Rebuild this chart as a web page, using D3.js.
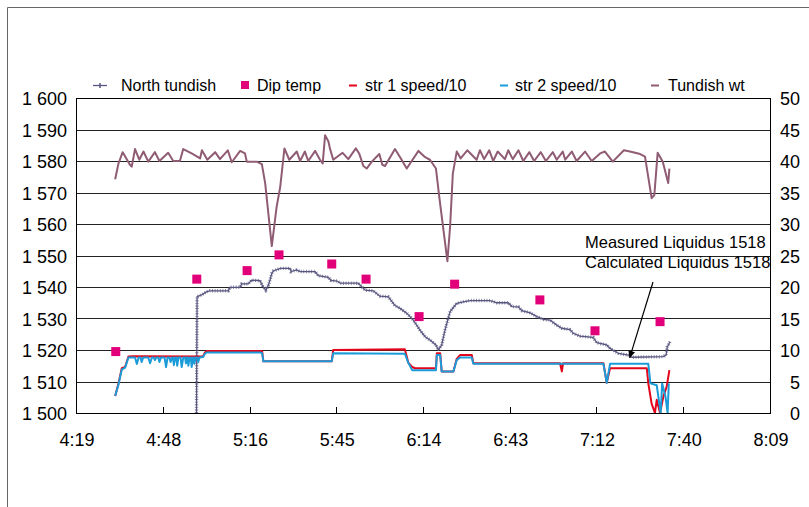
<!DOCTYPE html>
<html><head><meta charset="utf-8">
<script src="https://cdn.jsdelivr.net/npm/d3@7/dist/d3.min.js"></script>
<style>
body{margin:0;background:#fff}
svg text{font-family:"Liberation Sans",Arial,Helvetica,sans-serif;fill:#000}
</style>
</head><body>
<svg id="chart" width="809" height="507"></svg>
<script>
// ---- DATA (time = minutes after midnight) ----
const xTickValues = [259.2, 288, 316.8, 345.6, 374.4, 403.2, 432, 460.8, 489.6];
const xTickLabels = ["4:19","4:48","5:16","5:45","6:14","6:43","7:12","7:40","8:09"];
const leftTickValues = [1500,1510,1520,1530,1540,1550,1560,1570,1580,1590,1600];
const leftTickLabels = ["1 500","1 510","1 520","1 530","1 540","1 550","1 560","1 570","1 580","1 590","1 600"];
const rightTickValues = [0,5,10,15,20,25,30,35,40,45,50];

const seriesNames = ["North tundish","Dip temp","str 1 speed/10","str 2 speed/10","Tundish wt"];

// North tundish temperature (°C)
const northTundish = [
 [299.2,1500],[299.4,1536.9],[300.9,1537.5],[302.6,1538.5],[303.7,1538.8],[309.8,1538.8],[310.3,1539.9],
 [313.7,1539.9],[314.2,1541],[316.4,1541],[317.5,1542.2],[320.3,1542],[321.1,1540.4],[322.2,1539],
 [323.1,1540.6],[324.2,1544.3],[324.7,1545.1],[327.0,1545.9],[330.3,1545.9],[330.6,1544.9],[332.5,1545.4],
 [333.6,1544.9],[338.6,1544.9],[339.6,1543.6],[343.0,1543.1],[343.8,1542.1],[345.9,1541.9],[346.9,1541.2],
 [352.9,1541.2],[355.2,1539],[357.9,1538.8],[360.1,1537.1],[362.9,1536.9],[365.1,1534.1],[366.8,1533.2],
 [369.0,1531.7],[371.2,1529.5],[373.4,1526.3],[375.1,1524.2],[376.7,1523.2],[378.7,1521.6],[379.5,1520],
 [380.6,1521.6],[381.7,1526.3],[383.4,1532.2],[385.6,1534.8],[387.8,1535.3],[390.0,1535.7],[396.7,1535.7],
 [398.9,1535.0],[402.7,1535.0],[403.9,1533.8],[406.1,1533.7],[407.2,1532.5],[410.0,1531.8],[412.2,1530.6],
 [414.4,1529.7],[416.6,1529.5],[418.8,1527.9],[420.5,1526.9],[423.2,1526.5],[424.3,1525.3],[426.5,1524.4],
 [430.9,1524],[432.1,1522.3],[435.4,1521.6],[436.5,1520.5],[439.3,1518.9],[442.6,1518.4],[443.7,1517.7],
 [454.2,1517.9],[455.1,1518.4],[455.5,1521],[456.4,1522.6]
];

// Dip temperature (°C)
const dipTemp = [
 [272.4,1519.5],[299.3,1542.5],[316.0,1545.2],[326.6,1550.2],[344.1,1547.3],[355.5,1542.5],
 [373.1,1530.6],[384.9,1540.9],[413.2,1535.9],[431.5,1526.1],[453.1,1529]
];

// strand 1 speed / 10
const str1Speed = [
 [272.2,2.7],[273.3,4.7],[274.4,7.1],[275.5,7.3],[276.6,8.95],[278.2,9.0],[300.4,8.95],[301.4,9.0],
 [302.0,9.6],[302.6,9.85],[320.3,9.85],[321.0,9.8],[321.4,8.2],[344.1,8.2],[344.6,10.0],[368.4,10.1],
 [369.5,8.0],[370.8,7.3],[371.8,7.1],[378.7,7.1],[379.0,9.5],[380.1,9.5],[380.6,6.6],[384.5,6.6],
 [385.6,8.6],[386.7,9.2],[390.6,9.2],[391.1,7.9],[419.9,7.9],[420.5,6.6],[420.9,7.9],[434.3,7.9],
 [435.4,4.8],[436.5,7.1],[448.7,7.1],[449.2,4.7],[450.3,1.5],[451.4,0],[452.0,2.1],[453.1,0],
 [454.2,2.6],[455.3,4.2],[456.2,6.8]
];

// strand 2 speed / 10
const str2Speed = [
 [272.2,2.7],[273.3,4.5],[274.4,6.9],[275.5,7.2],[276.6,8.8],[278.8,8.8],[279.4,7.8],[280.0,8.8],
 [280.6,8.8],[281.0,8.1],[281.5,8.8],[283.2,8.8],[283.8,7.9],[284.4,8.8],[285.0,8.8],[285.4,8.4],
 [285.9,8.8],[286.5,8.8],[286.9,8.1],[287.4,8.8],[288.6,8.8],[289.1,7.3],[289.6,8.8],[290.2,8.8],
 [290.6,8.1],[291.1,8.8],[291.4,8.8],[291.7,7.6],[292.1,8.8],[292.5,8.8],[292.8,7.5],[293.2,8.8],
 [293.9,8.8],[294.3,7.3],[294.8,8.8],[295.4,8.8],[295.7,7.9],[296.0,8.8],[296.2,8.8],[296.5,7.5],
 [296.9,8.8],[297.3,8.8],[297.6,7.3],[298.0,8.8],[298.2,8.8],[298.5,7.8],[298.9,8.8],[299.5,8.8],
 [299.8,8.1],[300.2,8.8],[301.4,8.9],[302.0,9.4],[302.6,9.6],[320.3,9.6],[321.0,9.5],[321.4,8.2],
 [344.1,8.2],[344.6,9.5],[368.4,9.4],[369.5,8.0],[370.8,6.8],[378.7,6.8],[379.0,9.2],[380.1,9.2],
 [380.6,6.6],[384.5,6.6],[385.6,8.4],[386.7,8.8],[390.6,8.8],[391.1,7.8],[434.3,7.8],[435.4,4.8],
 [436.5,7.8],[449.2,7.8],[449.9,4.7],[452.0,4.4],[453.3,0],[453.8,4.7],[454.9,2.6],[455.6,0],[456.0,4.7]
];

// Tundish weight (t)
const tundishWt = [
 [272.2,37.1],[273.3,39.6],[274.7,41.4],[276.0,40.3],[277.1,39.4],[277.7,39.1],[278.8,41.9],[280.2,40.2],
 [281.6,41.5],[283.2,39.9],[285.4,41.4],[286.9,40],[289.8,41.3],[291.5,40],[293.7,40],[294.8,41.9],
 [297.6,41.2],[300.4,40.4],[301.0,41.7],[302.8,40.2],[305.4,41.4],[307.0,40.3],[309.6,41.7],[310.9,39.8],
 [313.7,41.6],[315.3,41.2],[315.9,39.9],[319.2,39.9],[320.9,39.5],[322.0,36.5],[324.2,26.5],[325.8,32.7],
 [327.0,35.9],[328.4,42],[330.0,40.2],[332.5,41.5],[333.6,40.0],[335.2,41.5],[336.3,40.0],[338.6,41.6],
 [340.2,40.2],[341.1,39.6],[341.9,44.1],[343.0,43.1],[343.5,42.0],[344.6,40.2],[347.7,41.3],[349.6,40.3],
 [352.1,42.0],[353.2,41.2],[354.6,39.2],[355.7,38.8],[357.4,39.9],[359.9,41.1],[360.9,39.4],[361.8,39.2],
 [365.1,41.9],[366.8,40.6],[369.0,38.8],[372.9,41.6],[375.1,40.6],[376.7,40.2],[378.7,38.8],[379.8,34.3],
 [382.5,24.1],[383.4,29.6],[384.3,38.0],[385.6,41.5],[386.9,40.4],[389.1,41.7],[392.2,40.2],[393.3,41.7],
 [394.7,40.3],[396.4,41.7],[397.7,40],[399.2,41.5],[401.6,40.3],[402.7,41.7],[404.2,40.3],[406.1,41.7],
 [407.7,40.0],[409.7,41.4],[411.3,40.0],[413.5,41.4],[415.2,40],[417.5,41.4],[418.8,40.2],[420.8,41.5],
 [421.6,40.2],[423.8,41.5],[425.4,40],[428.2,41.5],[430.4,40],[433.2,41.2],[434.8,41.5],[437.4,39.9],
 [441.1,41.7],[443.1,41.5],[446.5,41.1],[448.1,40.7],[450.3,34.1],[451.2,34.6],[452.3,41.3],[454.0,39.9],
 [455.8,36.5],[456.2,38.8]
];

const annotationLines = ["Measured Liquidus 1518","Calculated Liquidus 1518"];
const arrowTarget = [443.0, 1517.5]; // time, °C pointed at

// ---- CHART ----
const svg = d3.select("#chart");
const plot = {left:76, right:770, top:98, bottom:413};
const x = d3.scaleLinear().domain([259.2, 489.6]).range([plot.left, plot.right]);
const yL = d3.scaleLinear().domain([1500,1600]).range([plot.bottom, plot.top]);
const yR = d3.scaleLinear().domain([0,50]).range([plot.bottom, plot.top]);

const C = {north:"#58567f", dip:"#e2007a", s1:"#e3051b", s2:"#1b9cd8", wt:"#8f5c74"};

// outer frame
svg.append("path").attr("d","M7.5,520 V7.5 H820").attr("fill","none").attr("stroke","#666").attr("stroke-width",1);

// gridlines
const grid = svg.append("g");
grid.selectAll("line").data(leftTickValues.slice(1,-1)).join("line")
 .attr("x1",plot.left).attr("x2",plot.right)
 .attr("y1",d=>Math.round(yL(d))+0.5).attr("y2",d=>Math.round(yL(d))+0.5)
 .attr("stroke","#222").attr("stroke-width",1);

// plot frame
svg.append("rect").attr("x",plot.left+0.5).attr("y",plot.top+0.5)
 .attr("width",plot.right-plot.left).attr("height",plot.bottom-plot.top)
 .attr("fill","none").attr("stroke","#000").attr("stroke-width",1);

// axes
const axL = d3.axisLeft(yL).tickValues(leftTickValues).tickSize(0).tickPadding(9)
  .tickFormat((d,i)=>leftTickLabels[i]);
svg.append("g").attr("transform",`translate(${plot.left},0.5)`).call(axL)
  .call(g=>g.select(".domain").remove())
  .selectAll("text").attr("font-size",18).attr("dy","0.35em");

const axR = d3.axisRight(yR).tickValues(rightTickValues).tickSize(0).tickPadding(0);
svg.append("g").attr("transform",`translate(800,0.5)`).call(axR)
  .call(g=>g.select(".domain").remove())
  .selectAll("text").attr("font-size",18).attr("text-anchor","end").attr("dy","0.35em");

const axB = d3.axisBottom(x).tickValues(xTickValues).tickSize(0).tickPadding(0)
  .tickFormat((d,i)=>xTickLabels[i]);
svg.append("g").attr("transform",`translate(0.5,${plot.bottom})`).call(axB)
  .call(g=>g.select(".domain").remove())
  .selectAll("text").attr("font-size",18).attr("dy",null).attr("y",33);
// inner ticks on bottom axis
svg.append("g").selectAll("line").data(xTickValues.slice(1,-1)).join("line")
  .attr("x1",d=>Math.round(x(d))+0.5).attr("x2",d=>Math.round(x(d))+0.5)
  .attr("y1",plot.bottom).attr("y2",plot.bottom-6).attr("stroke","#000");

const clip = svg.append("clipPath").attr("id","clip").append("rect")
  .attr("x",plot.left).attr("y",plot.top-20).attr("width",plot.right-plot.left).attr("height",plot.bottom-plot.top+20);
const layer = svg.append("g").attr("clip-path","url(#clip)");

const lineL = d3.line().x(d=>x(d[0])).y(d=>yL(d[1]));
const lineR = d3.line().x(d=>x(d[0])).y(d=>yR(d[1]));

// North tundish (beaded)
layer.append("path").datum(northTundish).attr("d",lineL).attr("fill","none")
  .attr("stroke",C.north).attr("stroke-width",1.3);
layer.append("path").datum(northTundish).attr("d",lineL).attr("fill","none")
  .attr("stroke",C.north).attr("stroke-width",3.4).attr("stroke-dasharray","0.9 1.7").attr("opacity",0.75);

// speeds
layer.append("path").datum(str1Speed).attr("d",lineR).attr("fill","none")
  .attr("stroke",C.s1).attr("stroke-width",2).attr("stroke-linejoin","round");
layer.append("path").datum(str2Speed).attr("d",lineR).attr("fill","none")
  .attr("stroke",C.s2).attr("stroke-width",2).attr("stroke-linejoin","round");

// tundish weight
layer.append("path").datum(tundishWt).attr("d",lineR).attr("fill","none")
  .attr("stroke",C.wt).attr("stroke-width",2).attr("stroke-linejoin","round");

// dip temp squares
layer.selectAll("rect.dip").data(dipTemp).join("rect").attr("class","dip")
  .attr("x",d=>x(d[0])-4.5).attr("y",d=>yL(d[1])-4.5).attr("width",9).attr("height",9)
  .attr("fill",C.dip);

// legend
const lg = svg.append("g").attr("font-size",16);
const lgY = 85.5;
lg.append("line").attr("x1",93).attr("x2",107).attr("y1",lgY).attr("y2",lgY).attr("stroke",C.north).attr("stroke-width",1.3);
lg.append("line").attr("x1",100).attr("x2",100).attr("y1",lgY-2.5).attr("y2",lgY+2.5).attr("stroke",C.north).attr("stroke-width",1.5);
lg.append("rect").attr("x",241).attr("y",lgY-4.5).attr("width",8).attr("height",8).attr("fill",C.dip);
lg.append("line").attr("x1",349).attr("x2",357).attr("y1",lgY).attr("y2",lgY).attr("stroke",C.s1).attr("stroke-width",2);
lg.append("line").attr("x1",500).attr("x2",508).attr("y1",lgY).attr("y2",lgY).attr("stroke",C.s2).attr("stroke-width",2);
lg.append("line").attr("x1",651).attr("x2",659).attr("y1",lgY).attr("y2",lgY).attr("stroke",C.wt).attr("stroke-width",2);
const lgX = [121,257,365,515,668];
lg.selectAll("text").data(seriesNames).join("text")
  .attr("x",(d,i)=>lgX[i]).attr("y",lgY+5.8).text(d=>d);

// annotation
const ann = svg.append("g").attr("font-size",16.5);
ann.append("text").attr("x",585).attr("y",248).text(annotationLines[0]);
ann.append("text").attr("x",585).attr("y",268).text(annotationLines[1]);
svg.append("defs").append("marker").attr("id","arr").attr("viewBox","0 0 10 10")
  .attr("refX",10).attr("refY",5).attr("markerWidth",9).attr("markerHeight",7)
  .attr("orient","auto").attr("markerUnits","userSpaceOnUse")
  .append("path").attr("d","M0,0 L10,5 L0,10 Z").attr("fill","#000");
svg.append("line").attr("x1",653).attr("y1",282)
  .attr("x2",x(arrowTarget[0])).attr("y2",yL(arrowTarget[1]))
  .attr("stroke","#000").attr("stroke-width",1.2).attr("marker-end","url(#arr)");
</script>
</body></html>
